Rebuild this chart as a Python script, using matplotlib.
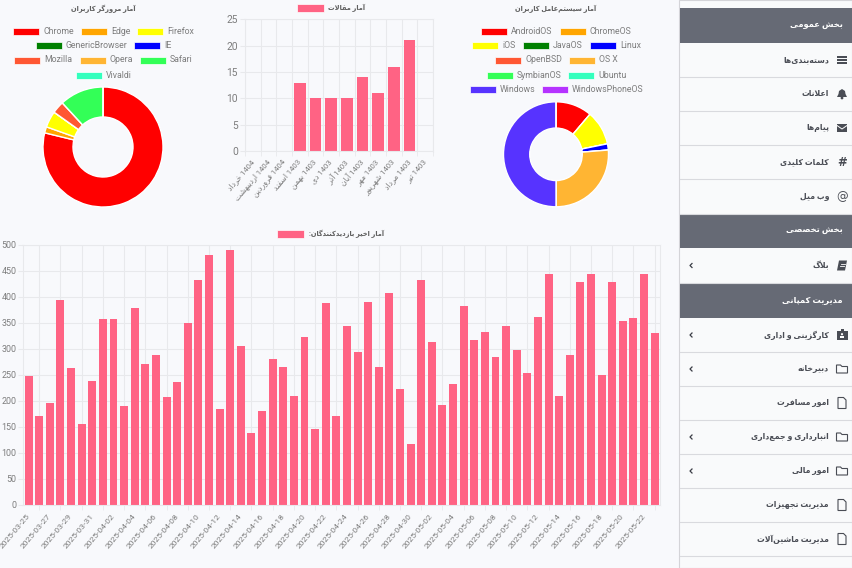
import matplotlib
matplotlib.use("Agg")
import matplotlib.pyplot as plt
from matplotlib.patches import Rectangle, Circle, Polygon

W, H = 852, 568
PAGE_BG = "#f8f9fc"
BAR_COLOR = "#ff6384"
TEXT_COLOR = "#7d7d7d"
GRID_COLOR = "#e8e9ec"

# visitors per day
visit_dates = [
    "2025-03-25", "2025-03-26", "2025-03-27", "2025-03-28", "2025-03-29", "2025-03-30",
    "2025-03-31", "2025-04-01", "2025-04-02", "2025-04-03", "2025-04-04", "2025-04-05",
    "2025-04-06", "2025-04-07", "2025-04-08", "2025-04-09", "2025-04-10", "2025-04-11",
    "2025-04-12", "2025-04-13", "2025-04-14", "2025-04-15", "2025-04-16", "2025-04-17",
    "2025-04-18", "2025-04-19", "2025-04-20", "2025-04-21", "2025-04-22", "2025-04-23",
    "2025-04-24", "2025-04-25", "2025-04-26", "2025-04-27", "2025-04-28", "2025-04-29",
    "2025-04-30", "2025-05-01", "2025-05-02", "2025-05-03", "2025-05-04", "2025-05-05",
    "2025-05-06", "2025-05-07", "2025-05-08", "2025-05-09", "2025-05-10", "2025-05-11",
    "2025-05-12", "2025-05-13", "2025-05-14", "2025-05-15", "2025-05-16", "2025-05-17",
    "2025-05-18", "2025-05-19", "2025-05-20", "2025-05-21", "2025-05-22", "2025-05-23",
]
visit_values = [
    248, 172, 197, 395, 263, 155, 238, 358, 358, 190, 378, 272, 289, 208, 236,
    350, 433, 481, 185, 490, 306, 139, 180, 280, 266, 209, 324, 146, 389, 172,
    345, 295, 390, 266, 407, 224, 118, 433, 314, 192, 233, 382, 317, 332, 284,
    345, 299, 254, 362, 444, 210, 288, 429, 445, 250, 429, 353, 359, 444, 331,
]

# articles per month
article_months = [
    "1404 خرداد", "1404 اردیبهشت", "1404 فروردین", "1403 اسفند", "1403 بهمن", "1403 دی",
    "1403 آذر", "1403 آبان", "1403 مهر", "1403 شهریور", "1403 مرداد", "1403 تیر",
]
article_values = [0, 0, 0, 13, 10, 10, 10, 14, 11, 16, 21, 0]

browser_names = ["Chrome", "Edge", "Firefox", "GenericBrowser", "IE", "Mozilla", "Opera", "Safari", "Vivaldi"]
browser_values = [78.8, 1.65, 4.4, 0, 0, 3.3, 0, 11.85, 0]
browser_colors = ["#ff0000", "#ffa500", "#ffff00", "#008000", "#0000ff", "#ff5733", "#ffb533", "#33ff57", "#33ffbd"]

os_names = ["AndroidOS", "ChromeOS", "iOS", "JavaOS", "Linux", "OpenBSD", "OS X",
            "SymbianOS", "Ubuntu", "Windows", "WindowsPhoneOS"]
os_values = [11.2, 0, 10.6, 0, 1.9, 0, 26.3, 0, 0, 50.0, 0]
os_colors = ["#ff0000", "#ffa500", "#ffff00", "#008000", "#0000ff", "#ff5733", "#ffb533",
             "#33ff57", "#33ffbd", "#5733ff", "#b533ff"]

# sidebar rows: label, kind, icon, has chevron
sidebar_rows = [
    ("بخش عمومی", "head", None, False),
    ("دسته‌بندی‌ها", "item", "bars", False),
    ("اعلانات", "item", "bell", False),
    ("پیام‌ها", "item", "mail", False),
    ("کلمات کلیدی", "item", "#", False),
    ("وب میل", "item", "@", False),
    ("بخش تخصصی", "head", None, False),
    ("بلاگ", "item", "book", True),
    ("مدیریت کمپانی", "head", None, False),
    ("کارگزینی و اداری", "item", "badge", True),
    ("دبیرخانه", "item", "folder", True),
    ("امور مسافرت", "item", "file", False),
    ("انبارداری و جمع‌داری", "item", "folder", True),
    ("امور مالی", "item", "folder", True),
    ("مدیریت تجهیزات", "item", "file", False),
    ("مدیریت ماشین‌آلات", "item", "file", False),
]

# matplotlib does no arabic shaping, so map to presentation forms by hand
# letter -> first code point, dual joining or not
FORMS = {
    "آ": (0xFE81, 0), "ا": (0xFE8D, 0), "ب": (0xFE8F, 1), "پ": (0xFB56, 1), "ت": (0xFE95, 1),
    "ث": (0xFE99, 1), "ج": (0xFE9D, 1), "چ": (0xFB7A, 1), "ح": (0xFEA1, 1), "خ": (0xFEA5, 1),
    "د": (0xFEA9, 0), "ذ": (0xFEAB, 0), "ر": (0xFEAD, 0), "ز": (0xFEAF, 0), "ژ": (0xFB8A, 0),
    "س": (0xFEB1, 1), "ش": (0xFEB5, 1), "ص": (0xFEB9, 1), "ض": (0xFEBD, 1), "ط": (0xFEC1, 1),
    "ظ": (0xFEC5, 1), "ع": (0xFEC9, 1), "غ": (0xFECD, 1), "ف": (0xFED1, 1), "ق": (0xFED5, 1),
    "ک": (0xFB8E, 1), "گ": (0xFB92, 1), "ل": (0xFEDD, 1), "م": (0xFEE1, 1), "ن": (0xFEE5, 1),
    "و": (0xFEED, 0), "ه": (0xFEE9, 1), "ی": (0xFBFC, 1),
}


def shape_word(word):
    word = word.replace("لا", "\ufefb").replace("لآ", "\ufef5")
    out = []
    prev_joins = False
    for i, ch in enumerate(word):
        nxt = word[i + 1] if i + 1 < len(word) else ""
        if ch in "\ufefb\ufef5":
            out.append(chr(ord(ch) + (1 if prev_joins else 0)))
            prev_joins = False
        elif ch in FORMS:
            base, dual = FORMS[ch]
            next_ok = bool(dual) and (nxt in FORMS or nxt in "\ufefb\ufef5") and nxt != ""
            if prev_joins and next_ok:
                code = base + 3
            elif prev_joins:
                code = base + 1
            elif next_ok:
                code = base + 2
            else:
                code = base
            out.append(chr(code))
            prev_joins = next_ok
        elif ch == "\u200c":
            prev_joins = False
        else:
            out.append(ch)
            prev_joins = False
    return "".join(reversed(out))


def fa(text):
    words = []
    for word in text.split(" "):
        words.append(word if word.isdigit() else shape_word(word))
    return " ".join(reversed(words))


plt.rcParams["font.family"] = ["Roboto", "DejaVu Sans"]
fig = plt.figure(figsize=(W / 100, H / 100), dpi=100, facecolor=PAGE_BG)


def px_axes(left, top, right, bottom):
    return fig.add_axes([left / W, 1 - bottom / H, (right - left) / W, (bottom - top) / H])


# overlay in pixel coordinates for legends and the sidebar
ov = fig.add_axes([0, 0, 1, 1], zorder=5)
ov.set_xlim(0, W)
ov.set_ylim(H, 0)
ov.axis("off")
ov.patch.set_alpha(0)


def legend_row(y, entries, names, colors):
    for name, sw_x in entries:
        color = colors[names.index(name)]
        ov.add_patch(Rectangle((sw_x, y - 3.5), 25.5, 7, fc=color, ec="white", lw=0.5))
        ov.text(sw_x + 30, y, name, fontsize=6.3, color=TEXT_COLOR, va="center", ha="left")


def style_bar_axes(ax, ylabel_size, xpad):
    ax.set_facecolor("none")
    for side in ax.spines:
        ax.spines[side].set_color(GRID_COLOR)
        ax.spines[side].set_linewidth(0.8)
    ax.grid(True, axis="y", color=GRID_COLOR, lw=0.8)
    ax.grid(True, axis="x", which="minor", color=GRID_COLOR, lw=0.8)
    ax.set_axisbelow(True)
    ax.tick_params(axis="y", labelsize=ylabel_size, colors=TEXT_COLOR, color=GRID_COLOR, length=3.5, pad=1.5)
    ax.tick_params(axis="x", which="major", length=0, colors=TEXT_COLOR, pad=xpad)
    ax.tick_params(axis="x", which="minor", length=3.5, color=GRID_COLOR)


# browsers doughnut
ax1 = px_axes(103 - 60, 147 - 60, 103 + 60, 147 + 60)
ax1.pie(browser_values, colors=browser_colors, startangle=90, counterclock=False, radius=1,
        wedgeprops=dict(width=0.5, edgecolor="white", linewidth=1))
ax1.set_xlim(-1, 1)
ax1.set_ylim(-1, 1)
ov.text(103, 9, fa("آمار مرورگر کاربران"), fontsize=4.8, fontweight="bold", color="#606060", ha="center", va="center")
legend_row(31, [("Chrome", 13), ("Edge", 81), ("Firefox", 137)], browser_names, browser_colors)
legend_row(45, [("GenericBrowser", 36), ("IE", 134)], browser_names, browser_colors)
legend_row(60, [("Mozilla", 14), ("Opera", 80), ("Safari", 140)], browser_names, browser_colors)
legend_row(75, [("Vivaldi", 76)], browser_names, browser_colors)

# os doughnut
ax3 = px_axes(556 - 52.5, 154.3 - 52.5, 556 + 52.5, 154.3 + 52.5)
ax3.pie(os_values, colors=os_colors, startangle=90, counterclock=False, radius=1,
        wedgeprops=dict(width=0.5, edgecolor="white", linewidth=1))
ax3.set_xlim(-1, 1)
ax3.set_ylim(-1, 1)
ov.text(556, 9, fa("آمار سیستم‌عامل کاربران"), fontsize=4.8, fontweight="bold", color="#606060", ha="center", va="center")
legend_row(31, [("AndroidOS", 481), ("ChromeOS", 560)], os_names, os_colors)
legend_row(45, [("iOS", 472), ("JavaOS", 523), ("Linux", 590)], os_names, os_colors)
legend_row(60, [("OpenBSD", 495), ("OS X", 569)], os_names, os_colors)
legend_row(75, [("SymbianOS", 487), ("Ubuntu", 568)], os_names, os_colors)
legend_row(89, [("Windows", 470), ("WindowsPhoneOS", 542)], os_names, os_colors)

# articles bars
ax2 = px_axes(245, 19.3, 433, 151)
pos2 = range(len(article_values))
ax2.bar(pos2, article_values, width=0.75, color=BAR_COLOR)
ax2.set_xlim(-0.5, len(article_values) - 0.5)
ax2.set_ylim(0, 25)
ax2.set_yticks([0, 5, 10, 15, 20, 25])
ax2.set_xticks(list(pos2))
ax2.set_xticks([i - 0.5 for i in range(len(article_values) + 1)], minor=True)
ax2.set_xticklabels([fa(m) for m in article_months], rotation=50, ha="right", va="center",
                    rotation_mode="anchor", fontsize=5.6)
style_bar_axes(ax2, 7.4, 7)
ov.add_patch(Rectangle((297, 4), 27, 8, fc=BAR_COLOR, ec="white", lw=0.5))
ov.text(328, 8, fa("آمار مقالات"), fontsize=4.8, fontweight="bold", color="#606060", ha="left", va="center")

# visitors bars
ax4 = px_axes(23.3, 245, 660, 505)
pos4 = range(len(visit_values))
ax4.bar(pos4, visit_values, width=0.75, color=BAR_COLOR)
ax4.set_xlim(-0.5, len(visit_values) - 0.5)
ax4.set_ylim(0, 500)
ax4.set_yticks(range(0, 501, 50))
ax4.set_xticks(list(pos4)[::2])
ax4.set_xticks(list(pos4)[1::2], minor=True)
ax4.set_xticklabels(visit_dates[::2], rotation=50, ha="right", va="center", rotation_mode="anchor", fontsize=6.1)
style_bar_axes(ax4, 6.4, 7)
ov.add_patch(Rectangle((277, 230), 27, 8, fc=BAR_COLOR, ec="white", lw=0.5))
ov.text(309, 234, fa("آمار اخیر بازدیدکنندگان:"), fontsize=4.8, fontweight="bold", color="#606060", ha="left", va="center")


def draw_icon(kind, x, y, color="#4a4d55"):
    if kind == "bars":
        for dy in (-3, 0, 3):
            ov.add_patch(Rectangle((x - 5, y + dy - 0.8), 10, 1.6, fc=color, ec="none"))
    elif kind == "bell":
        ov.add_patch(Polygon([(x - 5, y + 3), (x - 3.5, y), (x - 3, y - 3), (x, y - 5), (x + 3, y - 3),
                              (x + 3.5, y), (x + 5, y + 3)], fc=color, ec="none"))
        ov.add_patch(Circle((x, y + 4), 1.4, fc=color, ec="none"))
    elif kind == "mail":
        ov.add_patch(Rectangle((x - 5, y - 4), 10, 8, fc=color, ec="none"))
        ov.plot([x - 5, x, x + 5], [y - 2.5, y + 1, y - 2.5], color="white", lw=0.7)
    elif kind in ("#", "@"):
        ov.text(x, y, kind, fontsize=8.5, color=color, ha="center", va="center", family="DejaVu Sans",
                fontweight="bold" if kind == "#" else "normal")
    elif kind == "book":
        ov.add_patch(Polygon([(x - 5, y + 5), (x - 3, y - 5), (x + 5, y - 5), (x + 3, y + 5)], fc=color, ec="none"))
        ov.plot([x - 1.5, x + 2.5], [y - 2, y - 2], color="white", lw=0.6)
        ov.plot([x - 2, x + 2], [y + 0.5, y + 0.5], color="white", lw=0.6)
    elif kind == "badge":
        ov.add_patch(Rectangle((x - 5.5, y - 4), 11, 9, fc=color, ec="none"))
        ov.add_patch(Rectangle((x - 1.5, y - 6), 3, 3, fc=color, ec="none"))
        ov.add_patch(Circle((x, y - 0.8), 1.1, fc="white", ec="none"))
        ov.add_patch(Rectangle((x - 1.7, y + 1), 3.4, 2, fc="white", ec="none"))
    elif kind == "folder":
        ov.add_patch(Polygon([(x - 5.5, y + 4), (x - 5.5, y - 4), (x - 1.5, y - 4), (x, y - 2.5), (x + 5.5, y - 2.5),
                              (x + 5.5, y + 4)], fc="none", ec=color, lw=0.8))
    elif kind == "file":
        ov.add_patch(Polygon([(x - 4, y + 5.5), (x - 4, y - 5.5), (x + 1.5, y - 5.5), (x + 4, y - 3), (x + 4, y + 5.5)],
                             fc="none", ec=color, lw=0.8))


# sidebar
ov.add_patch(Rectangle((679, 0), 173, H, fc="#f9fafb", ec="#d4d4d8", lw=0.8))
row_edges = [7.5, 43, 77, 111, 145, 179, 214, 248, 283, 318, 352, 386, 420, 454, 488, 522, 556]
for i, (label, kind, icon, chevron) in enumerate(sidebar_rows):
    top, bottom = row_edges[i], row_edges[i + 1]
    mid = (top + bottom) / 2
    if kind == "head":
        ov.add_patch(Rectangle((680, top), 172, bottom - top, fc="#666a75", ec="none"))
        ov.text(843, mid, fa(label), fontsize=6.0, fontweight="bold", color="white", ha="right", va="center")
    else:
        ov.plot([680, 852], [bottom, bottom], color="#d9dade", lw=0.8)
        draw_icon(icon, 842, mid)
        ov.text(829, mid, fa(label), fontsize=5.6, fontweight="bold", color="#4a4d55", ha="right", va="center")
        if chevron:
            ov.plot([692, 690, 692], [mid - 2, mid, mid + 2], color="#3a3d45", lw=0.9)

fig.savefig("out.png", dpi=100, facecolor=PAGE_BG)
